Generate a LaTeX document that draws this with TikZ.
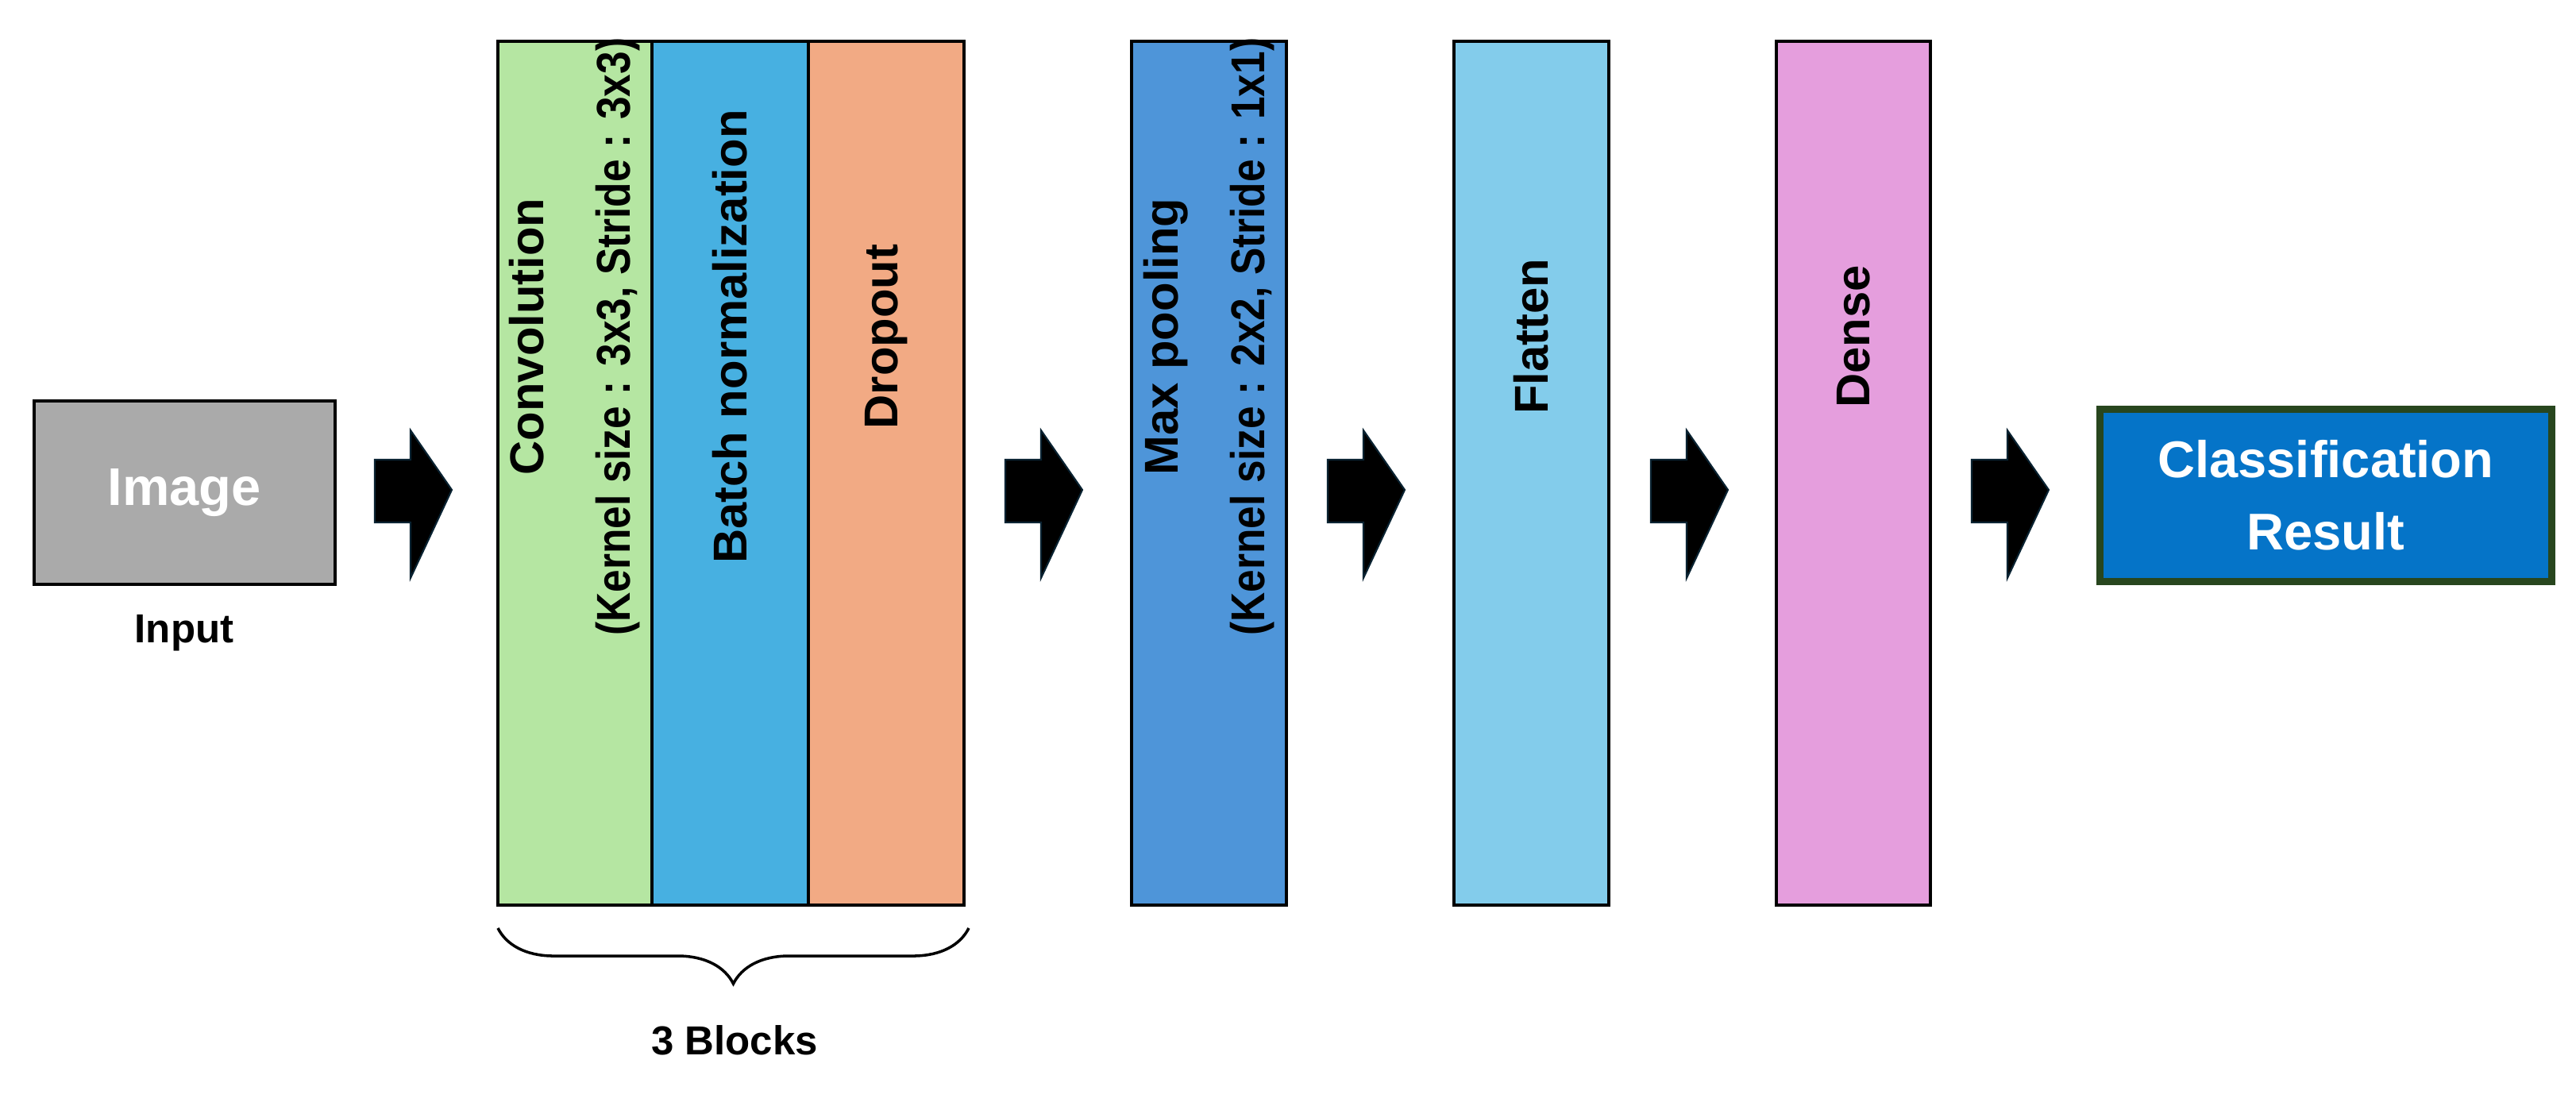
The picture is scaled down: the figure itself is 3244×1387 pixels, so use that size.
\documentclass[tikz,border=0pt]{standalone}
\usepackage{fontspec}
\setmainfont{Liberation Sans}
\usetikzlibrary{decorations.pathreplacing}
\definecolor{cgreen}{RGB}{181,230,162}
\definecolor{cblue}{RGB}{71,176,225}
\definecolor{corange}{RGB}{242,170,132}
\definecolor{cmax}{RGB}{78,149,217}
\definecolor{cflat}{RGB}{131,204,235}
\definecolor{cdense}{RGB}{229,158,221}
\definecolor{cgray}{RGB}{170,170,170}
\definecolor{cres}{RGB}{5,116,200}
\definecolor{cresb}{RGB}{40,70,30}
\begin{document}
\begin{tikzpicture}[x=0.01cm,y=-0.01cm,
  blk/.style={draw=black,line width=1pt},
  lbl/.style={rotate=90,font=\fontsize{17}{31}\selectfont\bfseries,align=center},
  arr/.style={fill=black,draw={rgb,255:red,10;green,35;blue,50},line width=0.6pt}]
\useasboundingbox (0,0) rectangle (3244,1387);
% input
\node[blk,fill=cgray,minimum width=379*0.01cm,minimum height=231*0.01cm,anchor=north west,inner sep=0] (img) at (41,503) {};
\node[text=white,font=\fontsize{19}{22}\selectfont\bfseries] (imgt) at (img.center) {Image};
\node[font=\fontsize{14.5}{17}\selectfont\bfseries] (inp) at (232,797) {Input};
% blocks
\newcommand{\blkbox}[4]{\draw[blk,fill=#4] (#2,52) rectangle (#3,1140); \coordinate (#1) at ({(#2+#3)/2},424);}
\blkbox{c1}{627}{821}{cgreen}
\blkbox{c2}{821}{1018}{cblue}
\blkbox{c3}{1018}{1214}{corange}
\blkbox{c4}{1425}{1620}{cmax}
\blkbox{c5}{1831}{2026}{cflat}
\blkbox{c6}{2237}{2431}{cdense}
\node[lbl] (t1) at (c1) {Convolution\\\scalebox{0.86}[1]{(Kernel size : 3x3, Stride : 3x3)}};
\node[lbl] (t2) at (c2) {Batch normalization};
\node[lbl] (t3) at (c3) {Dropout};
\node[lbl] (t4) at (c4) {Max pooling\\\scalebox{0.86}[1]{(Kernel size : 2x2, Stride : 1x1)}};
\node[lbl] (t5) at (c5) {Flatten};
\node[lbl] (t6) at (c6) {Dense};
% brace
\coordinate (bl) at (627,1169);
\coordinate (br) at (1220,1169);
\draw[line width=1pt,decoration={brace,amplitude=0.7cm,mirror},decorate] (bl) -- (br);
\node[font=\fontsize{14.5}{17}\selectfont\bfseries] (blocks) at (925,1310) {3 Blocks};
% result
\node[draw=cresb,line width=2.5pt,fill=cres,minimum width=569*0.01cm,minimum height=217*0.01cm,anchor=north west,inner sep=0] (res) at (2640,511) {};
\node[text=white,font=\fontsize{18.5}{26}\selectfont\bfseries,align=center] (rest) at (res.center) {Classification\\Result};
% arrows
\foreach \x in {472,1266,1672,2079,2483}{
  \draw[arr] (\x,579) -- (\x+45,579) -- (\x+45,542) -- (\x+97,617) -- (\x+45,728) -- (\x+45,658) -- (\x,658) -- cycle;
}
\end{tikzpicture}
\end{document}
